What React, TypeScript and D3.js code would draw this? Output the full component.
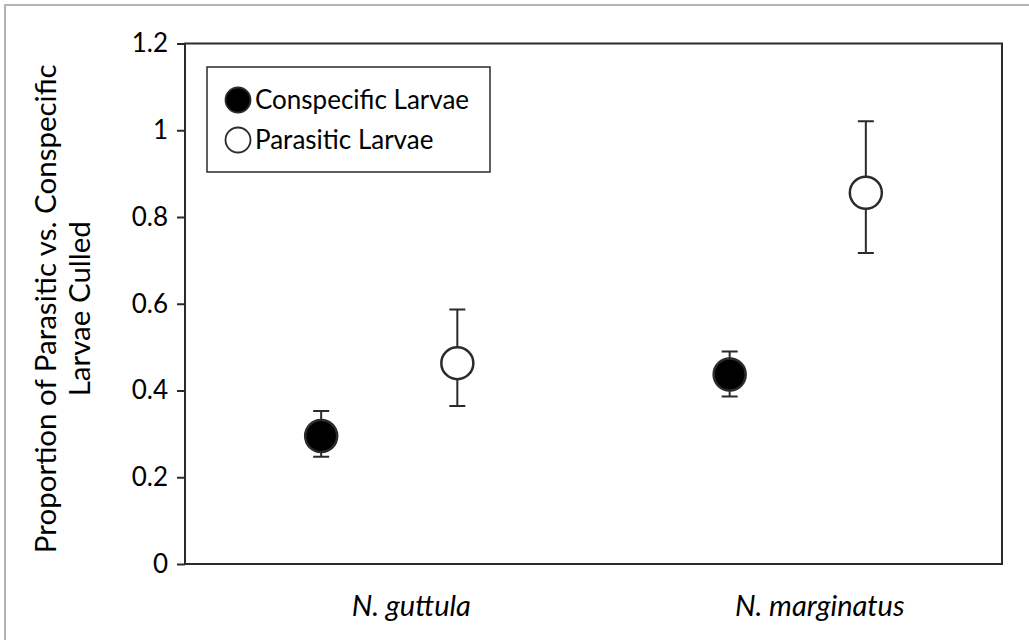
import React, { useEffect, useRef } from 'react';
import * as d3 from 'd3';

// species on the x axis, two larvae types per species
const species = ['N. guttula', 'N. marginatus'];
const seriesNames = ['Conspecific Larvae', 'Parasitic Larvae'];

const conspecificMean = [0.295, 0.437];
const conspecificLow = [0.247, 0.386];
const conspecificHigh = [0.353, 0.49];

const parasiticMean = [0.463, 0.856];
const parasiticLow = [0.364, 0.717];
const parasiticHigh = [0.587, 1.021];

const yTicks = [0, 0.2, 0.4, 0.6, 0.8, 1, 1.2];
const yTickLabels = ['0', '0.2', '0.4', '0.6', '0.8', '1', '1.2'];

const FONT = 'Lato, "Open Sans", sans-serif';

function App() {
    const ref = useRef<SVGSVGElement | null>(null);

    useEffect(() => {
        document.body.style.margin = '0';
        const width = 1029;
        const height = 640;
        const margin = { top: 43.5, right: 27, bottom: 76, left: 185 };

        const svg = d3.select(ref.current);
        svg.selectAll('*').remove();

        // light frame on top and left like the source image
        svg.append('path')
            .attr('d', `M5,${height} V5 H${width}`)
            .attr('fill', 'none')
            .attr('stroke', '#b4b4b4')
            .attr('stroke-width', 2);

        const x = d3.scaleBand()
            .domain(species)
            .range([margin.left, width - margin.right]);

        const xInner = d3.scalePoint()
            .domain(seriesNames)
            .range([0, x.bandwidth()])
            .padding(1);

        const y = d3.scaleLinear()
            .domain([0, 1.2])
            .range([height - margin.bottom, margin.top]);

        const g = svg.append('g');

        // plot frame
        g.append('rect')
            .attr('x', margin.left)
            .attr('y', y(1.2))
            .attr('width', width - margin.right - margin.left)
            .attr('height', y(0) - y(1.2))
            .attr('fill', 'none')
            .attr('stroke', '#2b2b2b')
            .attr('stroke-width', 2);

        // y axis
        const yAxis = g.append('g')
            .attr('transform', `translate(${margin.left},0)`)
            .call(d3.axisLeft(y)
                .tickValues(yTicks)
                .tickFormat((d, i) => yTickLabels[i])
                .tickSize(8)
                .tickPadding(9));
        yAxis.select('.domain').remove();
        yAxis.selectAll('.tick line')
            .attr('stroke', '#2b2b2b')
            .attr('stroke-width', 2);
        yAxis.selectAll('.tick text')
            .attr('font-family', FONT)
            .attr('font-size', 26)
            .attr('fill', '#000');

        // x labels (Excel puts them a bit right of the band centre)
        g.selectAll('.xlab')
            .data(species)
            .enter().append('text')
            .attr('class', 'xlab')
            .attr('x', d => (x(d) as number) + x.bandwidth() / 2 + 22)
            .attr('y', 616)
            .attr('text-anchor', 'middle')
            .attr('font-family', FONT)
            .attr('font-size', 29)
            .attr('font-style', 'italic')
            .attr('fill', '#000')
            .text(d => d);

        // y title
        const title = g.append('text')
            .attr('transform', `translate(0,${(y(0) + y(1.2)) / 2 + 5}) rotate(-90)`)
            .attr('text-anchor', 'middle')
            .attr('font-family', FONT)
            .attr('font-size', 29.5)
            .attr('fill', '#000');
        title.append('tspan').attr('x', 0).attr('y', 56).text('Proportion of Parasitic vs. Conspecific');
        title.append('tspan').attr('x', 0).attr('y', 90).text('Larvae Culled');

        const series = [
            { name: seriesNames[0], mean: conspecificMean, low: conspecificLow, high: conspecificHigh, fill: '#000' },
            { name: seriesNames[1], mean: parasiticMean, low: parasiticLow, high: parasiticHigh, fill: '#fff' },
        ];

        series.forEach(s => {
            const pts = species.map((sp, i) => ({
                cx: (x(sp) as number) + (xInner(s.name) as number),
                mean: s.mean[i], low: s.low[i], high: s.high[i],
            }));
            const sg = g.append('g');
            // error bars
            sg.selectAll('.err')
                .data(pts)
                .enter().append('path')
                .attr('d', d => `M${d.cx},${y(d.low)} V${y(d.high)} M${d.cx - 8},${y(d.low)} H${d.cx + 8} M${d.cx - 8},${y(d.high)} H${d.cx + 8}`)
                .attr('fill', 'none')
                .attr('stroke', '#2b2b2b')
                .attr('stroke-width', 2);
            sg.selectAll('circle')
                .data(pts)
                .enter().append('circle')
                .attr('cx', d => d.cx)
                .attr('cy', d => y(d.mean))
                .attr('r', 16)
                .attr('fill', s.fill)
                .attr('stroke', '#2b2b2b')
                .attr('stroke-width', 2.5);
        });

        // legend
        const legend = g.append('g');
        legend.append('rect')
            .attr('x', 207)
            .attr('y', 67)
            .attr('width', 283)
            .attr('height', 105)
            .attr('fill', '#fff')
            .attr('stroke', '#2b2b2b')
            .attr('stroke-width', 1.5);
        series.forEach((s, i) => {
            const cy = 100 + i * 40;
            legend.append('circle')
                .attr('cx', 238)
                .attr('cy', cy)
                .attr('r', 12.5)
                .attr('fill', s.fill)
                .attr('stroke', '#2b2b2b')
                .attr('stroke-width', 1.8);
            legend.append('text')
                .attr('x', 255)
                .attr('y', cy + 9)
                .attr('font-family', FONT)
                .attr('font-size', 26)
                .attr('fill', '#000')
                .text(s.name);
        });
    }, []);

    return (
        <svg ref={ref} width={1029} height={640} style={{ display: 'block', background: '#fff' }}></svg>
    );
}

export default App;
